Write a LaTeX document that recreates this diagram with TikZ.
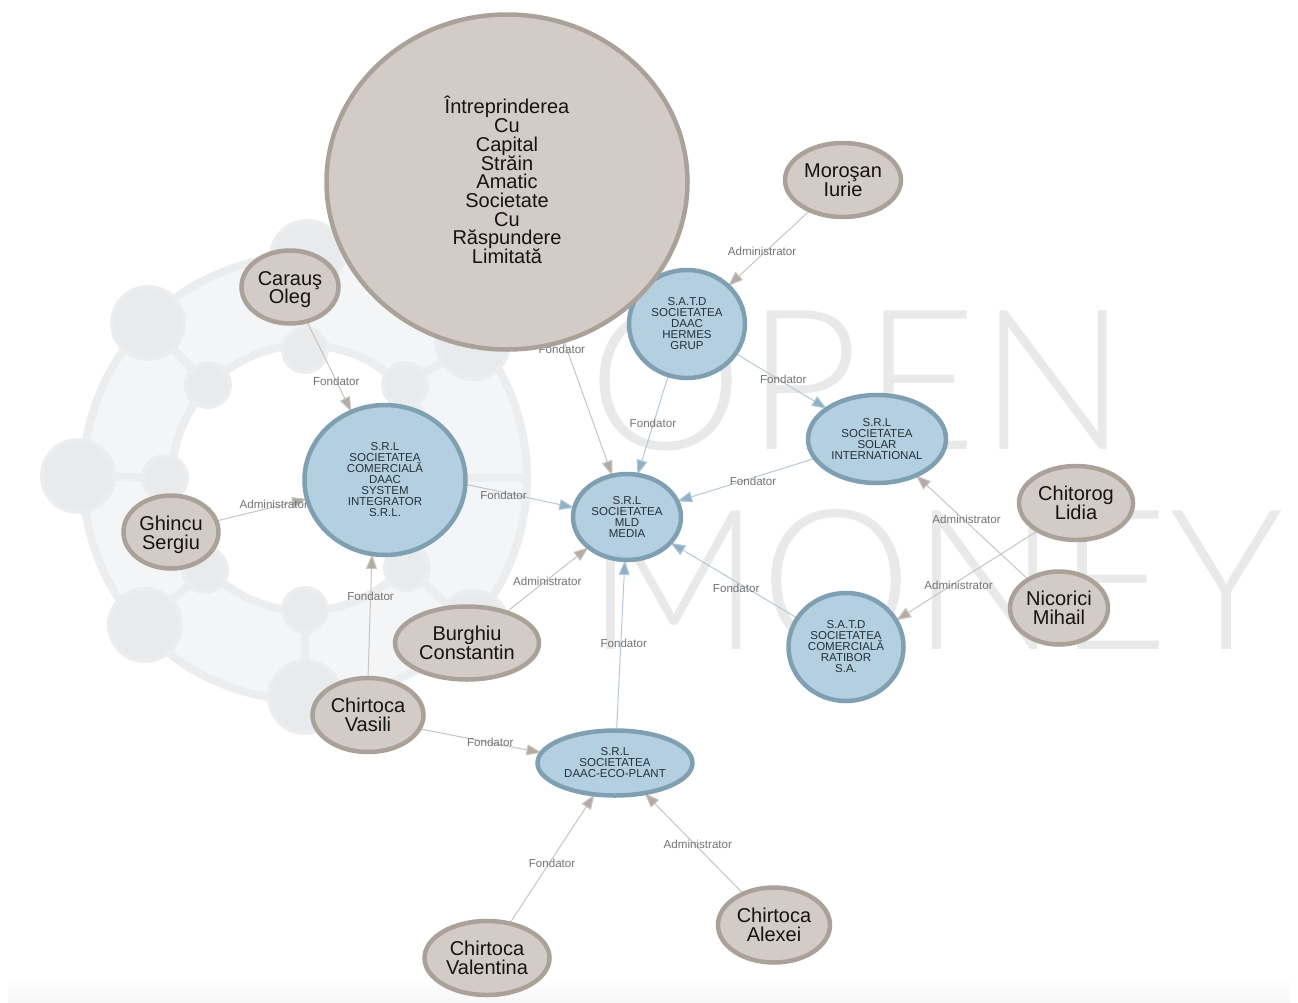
\documentclass[tikz,border=0pt]{standalone}
\usepackage{fontspec}
\setmainfont{Liberation Sans}
\newfontfamily\wmfont{Lato Light}
\usetikzlibrary{shapes.geometric,arrows.meta}
\pgfdeclarelayer{bg}
\pgfsetlayers{bg,main}
\definecolor{personfill}{HTML}{D3CBC5}
\definecolor{persondraw}{HTML}{AAA198}
\definecolor{firmfill}{HTML}{B3CFE0}
\definecolor{firmdraw}{HTML}{7F9FB3}
\definecolor{firmtext}{HTML}{26323C}
\definecolor{tipgray}{HTML}{B5ABA2}
\definecolor{tipblue}{HTML}{8FB1C6}
\definecolor{linegray}{HTML}{C8C4BF}
\definecolor{lineblue}{HTML}{B4C9D6}
\definecolor{markring}{HTML}{ECEDEE}
\definecolor{markband}{HTML}{F4F5F7}
\definecolor{markblob}{HTML}{E9EAEC}
\definecolor{markletter}{HTML}{E9E9E9}
\newcommand{\personfont}{\fontsize{20}{18.7}\selectfont\setlength{\lineskiplimit}{-6pt}}
\tikzset{
	person/.style={ellipse,draw=persondraw,fill=personfill,line width=4.5pt,inner sep=0pt,outer sep=0pt,align=center,text=black!92,font=\personfont},
	firm/.style={ellipse,draw=firmdraw,fill=firmfill,line width=4.5pt,inner sep=0pt,outer sep=0pt,align=center,text=firmtext,font=\fontsize{11.5}{11}\selectfont},
	edgegray/.style={draw=linegray,line width=1pt,-{Triangle[length=15pt,width=11pt,fill=tipgray]}},
	edgeblue/.style={draw=lineblue,line width=1pt,-{Triangle[length=15pt,width=11pt,fill=tipblue]}},
	lbl/.style={text=black!55,inner sep=0pt,font=\fontsize{11.6}{11.6}\selectfont},
	bigword/.style={text=markletter,inner sep=0pt,anchor=west,font=\wmfont\fontsize{196}{196}\selectfont}
}
\begin{document}
\begin{tikzpicture}[x=1pt,y=-1pt]
	\useasboundingbox (0,0) rectangle (1298,1002);
	% firms
	\node[firm,minimum width=161pt,minimum height=150pt] (system) at (385,480) {S.R.L\\SOCIETATEA\\COMERCIALĂ\\DAAC\\SYSTEM\\INTEGRATOR\\S.R.L.};
	\node[firm,minimum width=108pt,minimum height=86pt] (mld) at (627,517) {S.R.L\\SOCIETATEA\\MLD\\MEDIA};
	\node[firm,minimum width=116pt,minimum height=108pt] (hermes) at (687,324) {S.A.T.D\\SOCIETATEA\\DAAC\\HERMES\\GRUP};
	\node[firm,minimum width=138pt,minimum height=88pt] (solar) at (877,439) {S.R.L\\SOCIETATEA\\SOLAR\\INTERNATIONAL};
	\node[firm,minimum width=115pt,minimum height=108pt] (ratibor) at (846,647) {S.A.T.D\\SOCIETATEA\\COMERCIALĂ\\RATIBOR\\S.A.};
	\node[firm,minimum width=155pt,minimum height=65pt] (eco) at (615,763) {S.R.L\\SOCIETATEA\\DAAC-ECO-PLANT};
	% persons
	\node[person,minimum width=361pt,minimum height=335pt] (amatic) at (507,182) {Întreprinderea\\Cu\\Capital\\Străin\\Amatic\\Societate\\Cu\\Răspundere\\Limitată\rule[-4pt]{0pt}{0pt}};
	\node[person,minimum width=116pt,minimum height=74pt] (morosan) at (843,180) {Moroşan\\Iurie};
	\node[person,minimum width=97pt,minimum height=73pt] (caraus) at (290,287) {\rule{0pt}{19pt}Carauş\\Oleg};
	\node[person,minimum width=95pt,minimum height=73pt] (ghincu) at (171,532) {\rule{0pt}{20pt}Ghincu\\Sergiu};
	\node[person,minimum width=144pt,minimum height=73pt] (burghiu) at (467,643) {Burghiu\\Constantin};
	\node[person,minimum width=111pt,minimum height=74pt] (vasili) at (368,715) {Chirtoca\\Vasili};
	\node[person,minimum width=114pt,minimum height=74pt] (chitorog) at (1076,503) {Chitorog\\Lidia};
	\node[person,minimum width=98pt,minimum height=73pt] (nicorici) at (1059,608) {Nicorici\\Mihail};
	\node[person,minimum width=125pt,minimum height=74pt] (valentina) at (487,958) {Chirtoca\\Valentina};
	\node[person,minimum width=112pt,minimum height=75pt] (alexei) at (774,925) {Chirtoca\\Alexei};
	\begin{pgfonlayer}{bg}
		% logo behind the graph
		\shade[top color=white,bottom color=black!3] (8,975) rectangle (1290,1002);
		\fill[markband,even odd rule] (305,478) circle[radius=222] (305,478) circle[radius=133];
		\draw[markring,line width=8pt] (305,478) circle[radius=222];
		\draw[markring,line width=8pt] (305,478) circle[radius=133];
		\draw[markring,line width=8pt] (438,478) -- (527,478);
		\foreach \ox/\oy/\ix/\iy in {148/323/208/385,78/476/165/478,145/625/205/570,305/697/305/610,307/257/305/350,473/343/405/385,473/627/407/568} {
			\draw[markring,line width=8pt] (\ox,\oy) -- (\ix,\iy);
			\draw[markring,fill=markblob,line width=4pt] (\ox,\oy) circle[radius=36];
			\draw[markring,fill=markblob,line width=4pt] (\ix,\iy) circle[radius=22];
		}
		\draw[markring,fill=markblob,line width=4pt] (438,478) circle[radius=22];
		\node[bigword] (open) at (588.5,380) {\addfontfeature{LetterSpace=1.5}OPEN};
		\node[bigword] (money) at (586,580) {\scalebox{.98}[1]{MONEY}};
		% relations
		\draw[edgegray] (caraus) to node[lbl,pos=.66] {Fondator} (system);
		\draw[edgegray] (ghincu) to node[lbl,pos=.6,xshift=3pt,yshift=3pt] {Administrator} (system);
		\draw[edgegray] (vasili.90) to node[lbl,pos=.66] {Fondator} (system.260);
		\draw[edgeblue] (system.357) to node[lbl,pos=.35,yshift=-3pt] {Fondator} (mld.170);
		\draw[edgegray] (burghiu) to node[lbl,pos=.5,yshift=-2pt] {Administrator} (mld);
		\draw[edgegray] (amatic) to node[lbl,pos=.04,xshift=-4pt,yshift=-3pt] {Fondator} (mld);
		\draw[edgeblue] (hermes.250) to node[lbl,pos=.5,yshift=2pt] {Fondator} (mld.76);
		\draw[edgeblue] (hermes) to node[lbl,pos=.5,xshift=2pt,yshift=2pt] {Fondator} (solar);
		\draw[edgeblue] (solar) to node[lbl,pos=.45,yshift=-4pt] {Fondator} (mld);
		\draw[edgeblue] (ratibor) to node[lbl,pos=.45,xshift=-4pt,yshift=-4pt] {Fondator} (mld);
		\draw[edgeblue] (eco) to node[lbl,pos=.5,xshift=3pt,yshift=2pt] {Fondator} (mld);
		\draw[edgegray] (morosan) to node[lbl,pos=.5,xshift=-7pt,yshift=-3pt] {Administrator} (hermes);
		\draw[edgegray] (nicorici) to node[lbl,pos=.55,yshift=3pt] {Administrator} (solar);
		\draw[edgegray] (chitorog.216) to node[lbl,pos=.56,yshift=-4pt] {Administrator} (ratibor.28);
		\draw[edgegray] (vasili.345) to node[lbl,pos=.58] {Fondator} (eco.172);
		\draw[edgegray] (valentina) to node[lbl,pos=.5,yshift=-4pt] {Fondator} (eco);
		\draw[edgegray] (alexei) to node[lbl,pos=.48,xshift=2pt,yshift=1pt] {Administrator} (eco);
	\end{pgfonlayer}
\end{tikzpicture}
\end{document}
